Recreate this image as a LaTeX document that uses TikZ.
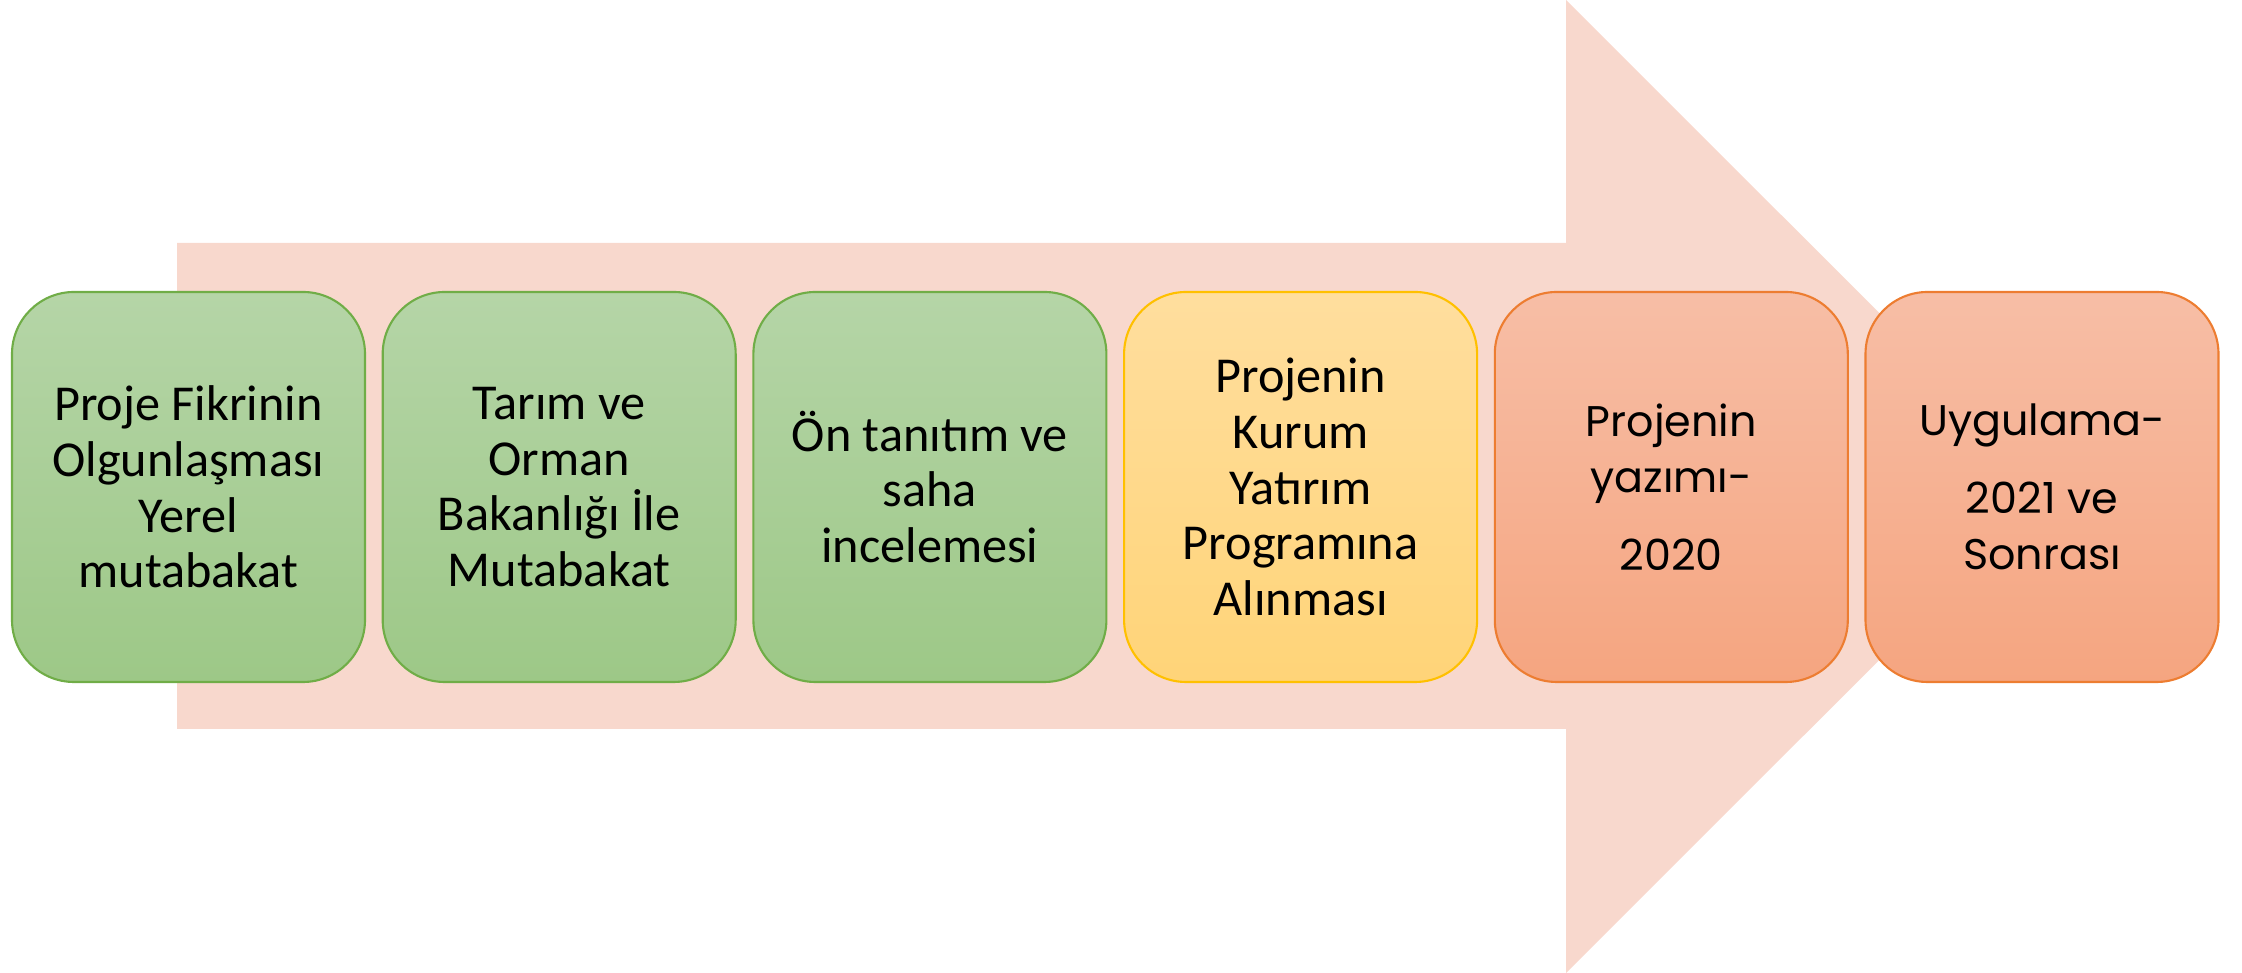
\documentclass[tikz,border=0pt]{standalone}
\usepackage{fontspec}
\setmainfont{Carlito}
\newfontfamily\geofont{Poppins}
\usetikzlibrary{positioning}

\definecolor{arrowfill}{RGB}{248,216,205}
\definecolor{greentop}{RGB}{181,213,167}
\definecolor{greenbot}{RGB}{157,200,135}
\definecolor{greenline}{RGB}{112,173,71}
\definecolor{yellowtop}{RGB}{255,222,158}
\definecolor{yellowbot}{RGB}{255,212,120}
\definecolor{yellowline}{RGB}{255,192,0}
\definecolor{orangetop}{RGB}{247,190,166}
\definecolor{orangebot}{RGB}{245,165,128}
\definecolor{orangeline}{RGB}{237,125,49}

\begin{document}
\begin{tikzpicture}[
  stage/.style={draw, line width=0.6pt, rounded corners=0.62cm, align=center,
    minimum width=3.53cm, minimum height=3.90cm, inner sep=0pt, outer sep=0pt,
    font=\fontsize{14.3}{15.85}\selectfont},
  greenstage/.style={stage, draw=greenline, top color=greentop, bottom color=greenbot},
  yellowstage/.style={stage, draw=yellowline, top color=yellowtop, bottom color=yellowbot},
  orangestage/.style={stage, draw=orangeline, top color=orangetop, bottom color=orangebot,
    font=\geofont\fontsize{12.2}{15.9}\selectfont},
  node distance=0.177cm
]
\useasboundingbox (0,0) rectangle (22.42,9.73);

% background arrow
\fill[arrowfill] (1.77,2.44) -- (15.66,2.44) -- (15.66,0) -- (20.53,4.865)
  -- (15.66,9.73) -- (15.66,7.30) -- (1.77,7.30) -- cycle;

% stages
\node[greenstage] (fikir) at (1.885,4.86) {Proje Fikrinin\\Olgunlaşması\\Yerel\\mutabakat};
\node[greenstage, right=of fikir] (bakanlik) {Tarım ve\\Orman\\Bakanlığı İle\\Mutabakat};
\node[greenstage, right=of bakanlik] (saha) {Ön tanıtım ve\\saha\\incelemesi};
\node[yellowstage, right=of saha] (program) {Projenin\\Kurum\\Yatırım\\Programına\\Alınması};
\node[orangestage, right=of program] (yazim) {Projenin\\yazımı-\\[6.3pt]2020};
\node[orangestage, right=of yazim] (uygulama) {Uygulama-\\[6.3pt]2021 ve\\Sonrası};
\end{tikzpicture}
\end{document}
